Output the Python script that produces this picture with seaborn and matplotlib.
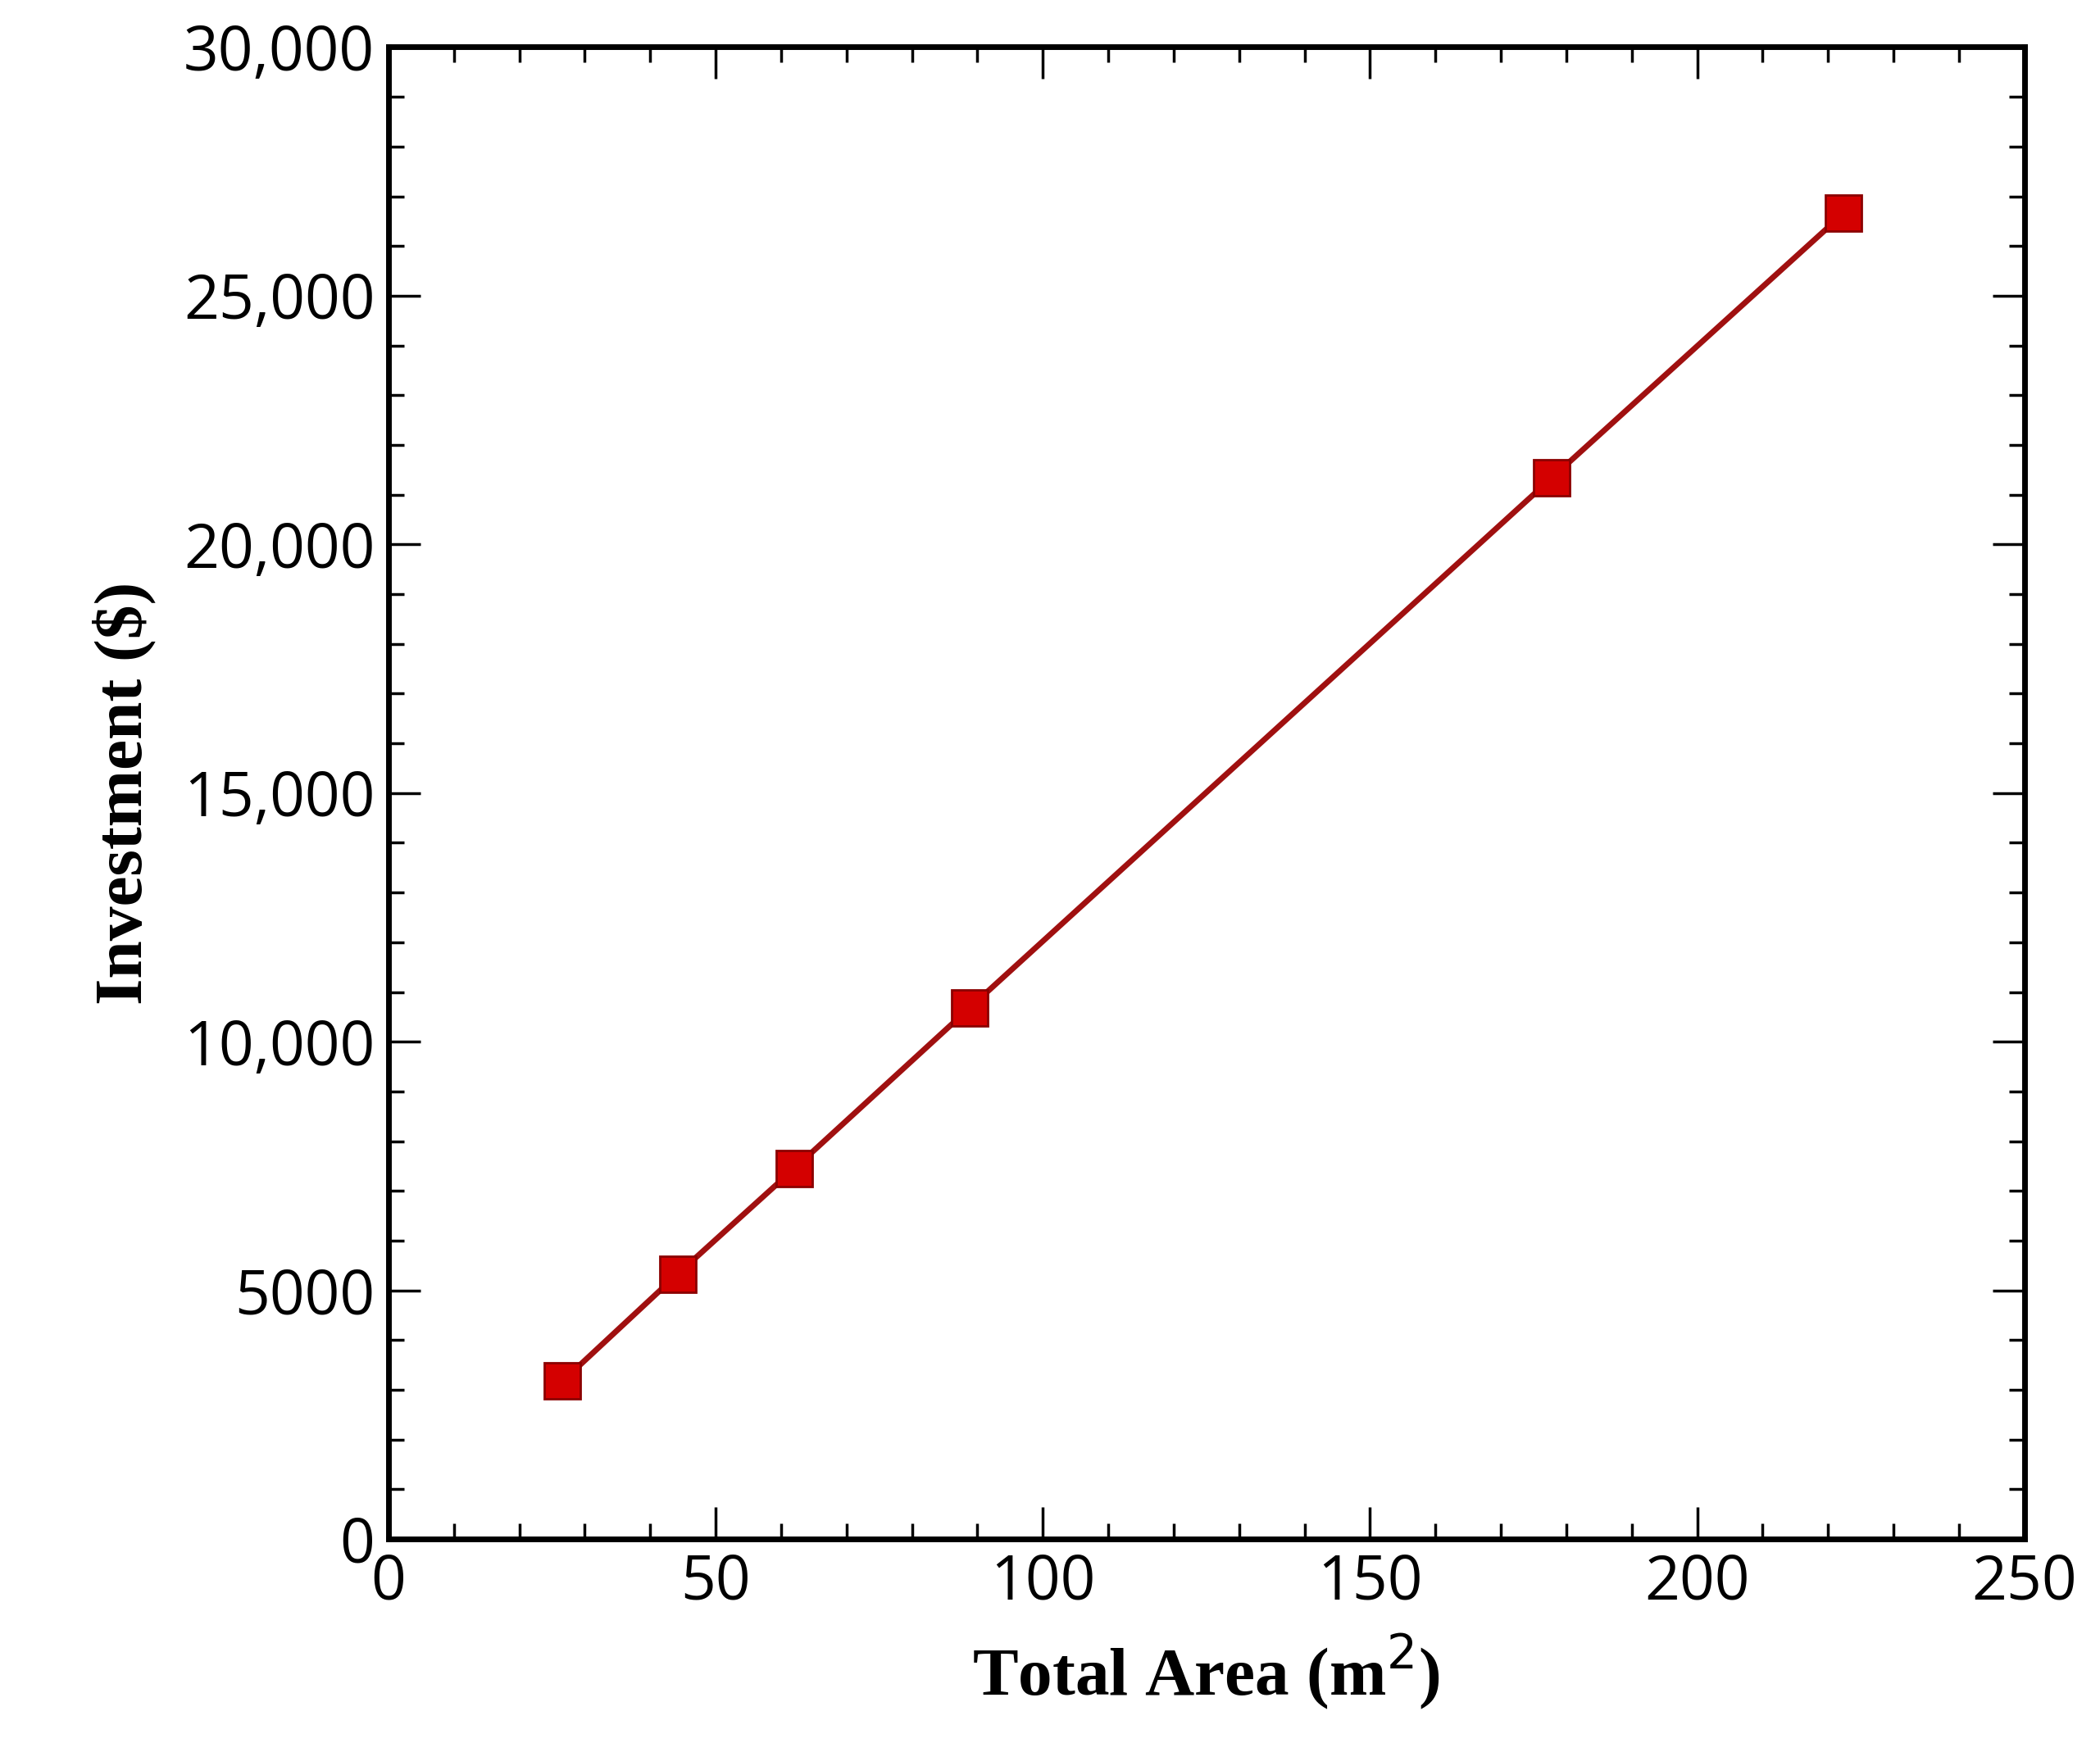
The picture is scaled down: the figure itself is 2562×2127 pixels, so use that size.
import matplotlib
matplotlib.use("Agg")
import matplotlib.pyplot as plt
import seaborn as sns
import pandas as pd
from matplotlib.ticker import MultipleLocator, FuncFormatter

area = [26.6, 44.2, 62.0, 88.8, 177.8, 222.4]
investment = [3175, 5330, 7450, 10680, 21340, 26660]

df = pd.DataFrame({"area": area, "investment": investment})

sns.set_style("ticks")
plt.rcParams["text.color"] = "black"
plt.rcParams["xtick.color"] = "black"
plt.rcParams["ytick.color"] = "black"
plt.rcParams["axes.edgecolor"] = "black"
plt.rcParams["axes.labelcolor"] = "black"
fig = plt.figure(figsize=(25.62, 21.27), dpi=100)
ax = fig.add_axes([0.185, 0.117, 0.779, 0.856])

sns.lineplot(data=df, x="area", y="investment", ax=ax, color="#a01010",
             linewidth=5, marker="s", markersize=32, markerfacecolor="#d40000",
             markeredgecolor="#8b0000", markeredgewidth=2)

ax.set_xlim(0, 250)
ax.set_ylim(0, 30000)
ax.xaxis.set_major_locator(MultipleLocator(50))
ax.xaxis.set_minor_locator(MultipleLocator(10))
ax.yaxis.set_major_locator(MultipleLocator(5000))
ax.yaxis.set_minor_locator(MultipleLocator(1000))

def yfmt(v, pos):
    v = int(v)
    if v < 10000:
        return str(v)
    return f"{v:,}"
ax.yaxis.set_major_formatter(FuncFormatter(yfmt))

for side in ax.spines.values():
    side.set_linewidth(5)
ax.tick_params(which="both", direction="in", top=True, right=True, width=2.5)
ax.tick_params(which="major", length=28, labelsize=54, pad=12)
ax.tick_params(which="minor", length=14)
for lab in ax.get_xticklabels() + ax.get_yticklabels():
    lab.set_family(["Open Sans", "DejaVu Sans"])

ax.set_xlabel("Total Area (m$^2$)", fontsize=60, fontweight="bold",
              family="Liberation Serif", labelpad=16)
ax.set_ylabel("Investment ($)", fontsize=60, fontweight="bold",
              family="Liberation Serif", labelpad=24)

fig.savefig("out.png", dpi=100, facecolor="white")
